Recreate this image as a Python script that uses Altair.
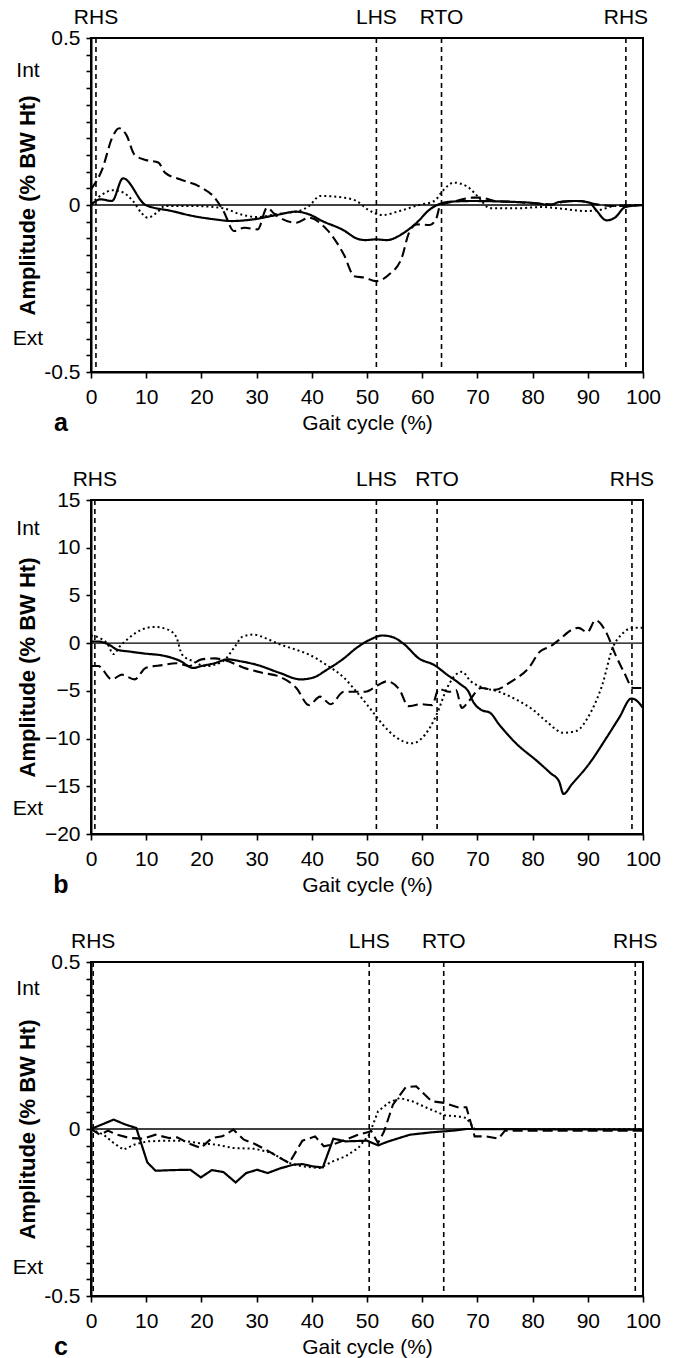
import altair as alt
import pandas as pd

FONT = "Liberation Sans"
W, H = 552, 334

# ---------------- Panel a ----------------
A_SOLID_X = [0, 1.7, 3.8, 5.8, 9.9, 14.6, 18.5, 22.4, 25.5, 29.4, 33.3, 37.2, 39.5, 41.9, 45.8, 48.1, 49.7, 51.6,
             53.6, 56.7, 59, 61.4, 63.3, 65.3, 69.2, 73.1, 77, 80.9, 83.2, 84.8, 87.9, 90.3, 91.4, 93.4, 94.9, 96.8, 100]
A_SOLID_Y = [0, 0.017, 0.012, 0.08, 0, -0.018, -0.033, -0.043, -0.048, -0.043, -0.031, -0.02, -0.028, -0.048, -0.076,
             -0.10, -0.105, -0.103, -0.105, -0.083, -0.053, -0.013, 0.004, 0.01, 0.012, 0.011, 0.009, 0.005, 0, 0.009,
             0.012, 0.007, -0.013, -0.046, -0.038, -0.006, 0]
A_DASH_X = [0, 2.1, 3.8, 5.1, 6.4, 7.9, 9.9, 12.2, 13.4, 16.1, 20, 22.4, 24, 25.9, 27.8, 30.2, 31.9, 33.3, 37.2, 39.5,
            42.7, 45.8, 47.7, 49.7, 51.6, 54, 56.3, 57.5, 59, 61.4, 62.6, 63.3, 66.1, 69.2, 70.7, 73.1, 77, 80.9, 84,
            85.6, 88.7, 91, 94.1, 100]
A_DASH_Y = [0.047, 0.11, 0.2, 0.23, 0.21, 0.15, 0.135, 0.127, 0.097, 0.077, 0.052, 0.022, -0.018, -0.078, -0.068,
            -0.073, -0.008, -0.028, -0.053, -0.038, -0.073, -0.148, -0.213, -0.218, -0.228, -0.208, -0.158, -0.088,
            -0.058, -0.06, -0.038, 0, 0.012, 0.022, 0.022, 0.012, 0.009, 0.004, 0.002, 0.01, 0.012, 0.004, -0.003, 0]
A_DOT_X = [0, 2.1, 3.8, 5.6, 7.6, 9.1, 10.3, 11.9, 13.4, 18.5, 24, 27.1, 30.2, 33.3, 38, 39.5, 41.5, 45.8, 48.1, 50.1,
           52.8, 55.9, 59.4, 62.2, 63.7, 65.7, 68, 70, 72.3, 77, 81.7, 84.8, 89.5, 91.8, 94.9, 100]
A_DOT_Y = [0.004, 0.032, 0.044, 0.039, 0.012, -0.023, -0.038, -0.023, -0.003, -0.003, -0.01, -0.028, -0.036, -0.028,
           -0.016, -0.003, 0.027, 0.022, 0.012, -0.013, -0.03, -0.018, 0, 0.012, 0.042, 0.067, 0.057, 0.027, -0.01,
           -0.01, -0.006, -0.01, -0.018, -0.016, -0.003, 0]
A_EVENTS = [0.9, 51.7, 63.5, 96.9]
A_INT_EXT = [0.4, -0.4]

# ---------------- Panel b ----------------
B_SOLID_X = [0, 1.3, 3.3, 4.8, 6.8, 9.9, 13, 16.1, 18.5, 20, 22.4, 24.7, 27.1, 30.2, 34.1, 38, 40.3, 42.7, 45.8, 48.1,
             50.5, 52.8, 54.8, 56.7, 59.4, 62.2, 64.5, 66.9, 68.4, 69.2, 70.7, 72.3, 73.9, 77, 80.9, 83.2, 84.8, 85.6,
             87.1, 90.3, 93.4, 95.7, 97.9, 98.8, 100]
B_SOLID_Y = [0.17, 0.17, -0.17, -0.7, -0.87, -1.1, -1.3, -1.85, -2.6, -2.4, -2.1, -1.7, -1.9, -2.3, -3.1, -3.8, -3.6,
             -2.8, -1.6, -0.5, 0.35, 0.8, 0.6, -0.1, -1.6, -2.3, -3.3, -4.3, -5.1, -6.1, -7.0, -7.3, -8.5, -10.5,
             -12.4, -13.6, -14.5, -15.8, -14.8, -12.6, -9.9, -7.8, -5.8, -6.0, -6.8]
B_DASH_X = [0, 1.3, 3.8, 5.6, 7.9, 9.9, 13, 15.4, 17.7, 20, 22.4, 24.3, 27.8, 31, 34.1, 37.2, 39.5, 41.5, 43.4, 45.8,
            49.7, 52, 53.6, 55.9, 57.5, 59.8, 61.8, 63, 64.9, 66.1, 67.2, 68.4, 70.7, 73.1, 76.2, 79.3, 81.3, 83.2,
            84.8, 87.1, 88.3, 89.9, 91.4, 93.4, 95, 96.6, 98.2, 100]
B_DASH_Y = [-2.4, -2.4, -3.8, -3.3, -3.8, -2.6, -2.3, -2.1, -2.4, -1.7, -1.6, -1.8, -2.6, -3.1, -3.5, -4.7, -6.5,
            -5.6, -6.4, -5.1, -5.1, -4.4, -4.0, -4.9, -6.6, -6.4, -6.5, -4.8, -5.1, -4.9, -6.8, -6.1, -4.7, -4.9,
            -4.0, -2.6, -0.9, -0.35, 0.35, 1.4, 1.6, 1.15, 2.4, 1.05, -1.2, -3.1, -4.7, -4.7]
B_DOT_X = [0, 1.7, 2.9, 4.1, 5.2, 6.8, 9.1, 11.5, 13.8, 15.4, 16.5, 18.5, 20.8, 24, 25.9, 27.5, 29.4, 31.7, 34.1, 37.2,
           39.5, 42.7, 45.8, 48.1, 50.5, 52.8, 55.1, 58.2, 60.5, 62.6, 64.5, 66.1, 67.2, 68.8, 70.7, 73.9, 77, 80.1,
           82.5, 85.6, 87.9, 90.3, 92.6, 94.5, 96.1, 98.2, 100]
B_DOT_Y = [0.8, 0.5, 0, -1.15, -0.35, 0.5, 1.4, 1.7, 1.45, 0.7, -1.2, -1.9, -2.4, -1.85, -0.5, 0.7, 0.9, 0.5, -0.1,
           -0.7, -1.2, -2.3, -3.6, -5.1, -6.8, -8.5, -9.8, -10.5, -9.6, -7.5, -4.7, -3.3, -3.0, -4.0, -4.6, -5.1,
           -5.9, -7.0, -8.2, -9.4, -9.2, -7.5, -4.4, -0.5, 0.9, 1.6, 1.6]
B_EVENTS = [0.7, 51.7, 62.7, 98.0]
B_INT_EXT = [12.0, -17.4]

# ---------------- Panel c ----------------
C_SOLID_X = [0, 4.1, 6.3, 8.2, 10.2, 11.7, 14.8, 18, 19.9, 21.9, 24, 26.2, 28.1, 30.1, 32, 34.4, 36.7, 38.3, 40.2, 42,
             43.9, 46.1, 50, 52, 53.9, 57.8, 61.7, 65.6, 68, 100]
C_SOLID_Y = [0, 0.028, 0.013, 0.003, -0.10, -0.125, -0.123, -0.122, -0.145, -0.123, -0.129, -0.16, -0.132, -0.122,
             -0.132, -0.117, -0.107, -0.105, -0.112, -0.115, -0.029, -0.037, -0.035, -0.049, -0.037, -0.017, -0.01,
             -0.005, 0, -0.002]
C_DASH_X = [0, 1.6, 3.1, 4.7, 7, 9.4, 11.7, 14.1, 15.6, 18, 19.9, 21.9, 23.8, 25.8, 27.7, 29.7, 32, 35.9, 38.3, 40.6,
            42.2, 44.1, 46.1, 48.4, 50.8, 52, 53.1, 54.7, 57, 58.9, 61.7, 64.1, 66.4, 68, 69.5, 71.5, 73.8, 75, 77.3,
            100]
C_DASH_Y = [0, -0.017, -0.005, -0.017, -0.027, -0.029, -0.017, -0.027, -0.025, -0.045, -0.057, -0.027, -0.022,
            -0.002, -0.032, -0.045, -0.065, -0.102, -0.035, -0.022, -0.052, -0.045, -0.032, -0.017, -0.007, -0.042,
            -0.007, 0.073, 0.125, 0.128, 0.083, 0.078, 0.065, 0.065, -0.022, -0.022, -0.029, -0.005, -0.005, -0.005]
C_DOT_X = [0, 2.3, 4.1, 5.9, 7.8, 10.2, 13.3, 16.4, 19.5, 22.7, 25.8, 29.7, 32.8, 35.9, 38.3, 41.4, 43.8, 46.1, 48.4,
           50.4, 52, 53.9, 55.9, 58.2, 60.9, 64.1, 66.4, 68, 69.5, 100]
C_DOT_Y = [0, -0.017, -0.042, -0.062, -0.047, -0.037, -0.035, -0.035, -0.042, -0.047, -0.057, -0.059, -0.072, -0.102,
           -0.112, -0.117, -0.097, -0.082, -0.057, -0.017, 0.053, 0.078, 0.093, 0.083, 0.063, 0.041, 0.038, 0.033, 0,
           0]
C_EVENTS = [0.4, 50.4, 63.9, 98.6]
C_INT_EXT = [0.42, -0.416]

EVENT_LABELS = ["RHS", "LHS", "RTO", "RHS"]
INT_EXT_LABELS = ["Int", "Ext"]
X_TICKS = [0, 10, 20, 30, 40, 50, 60, 70, 80, 90, 100]
SMALL_YTICKS = [-0.5, -0.45, -0.4, -0.35, -0.3, -0.25, -0.2, -0.15, -0.1, -0.05, 0, 0.05, 0.1, 0.15, 0.2, 0.25, 0.3,
                0.35, 0.4, 0.45, 0.5]
SMALL_YLABELS = {0.5: "0.5", 0: "0", -0.5: "-0.5"}
B_YTICKS = [-20, -15, -10, -5, 0, 5, 10, 15]

SERIES = ["solid", "dashed", "dotted"]


def label_expr(mapping):
    parts = []
    for v, s in mapping.items():
        parts.append(f"abs(datum.value - ({v})) < 1e-6 ? '{s}' : ")
    return "".join(parts) + "''"


def build_panel(curves, events, int_ext, ydomain, yticks, ylabel_map, letter, interp, anchor=False):
    rows = []
    for name, xs, ys in curves:
        for x, y in zip(xs, ys):
            rows.append({"series": name, "x": x, "y": y})
    df = pd.DataFrame(rows)

    x_axis = alt.Axis(values=X_TICKS, title="Gait cycle (%)", grid=False, tickSize=6, tickWidth=1.6,
                      labelPadding=25, labelBaseline="alphabetic", labelFontSize=21, labelFlush=False,
                      titleFontSize=21, titleFontWeight="normal", titleY=57, titleBaseline="alphabetic",
                      domainWidth=2)
    y_axis_kwargs = dict(values=yticks, title="Amplitude (% BW Ht)", grid=False, tickSize=5, tickWidth=1.6,
                         labelPadding=6, labelFontSize=21, labelFlush=False, titleFontSize=22,
                         titleFontWeight="bold", titleX=-64, titleY=H / 2, titleAngle=270, titleAlign="center",
                         titleBaseline="middle", domainWidth=2)
    if ylabel_map is not None:
        y_axis_kwargs["labelExpr"] = label_expr(ylabel_map)
    y_axis = alt.Axis(**y_axis_kwargs)

    xs = alt.Scale(domain=[0, 100], nice=False, zero=False)
    ys = alt.Scale(domain=ydomain, nice=False, zero=False)

    def xenc(f):
        return alt.X(f, type="quantitative", scale=xs, axis=x_axis)

    def yenc(f):
        return alt.Y(f, type="quantitative", scale=ys, axis=y_axis)

    lines = alt.Chart(df).mark_line(color="black", strokeCap="butt", interpolate=interp).encode(
        x=xenc("x"), y=yenc("y"), detail="series:N",
        strokeDash=alt.StrokeDash("series:N", scale=alt.Scale(domain=SERIES, range=[[1, 0], [10, 5], [2, 3]]),
                                  legend=None),
        strokeWidth=alt.StrokeWidth("series:N", scale=alt.Scale(domain=SERIES, range=[2.2, 2.0, 2.0]),
                                    legend=None),
    )

    zero = alt.Chart(pd.DataFrame({"y": [0]})).mark_rule(color="black", strokeWidth=1.3).encode(y=yenc("y"))

    ev_df = pd.DataFrame({"x": events, "label": EVENT_LABELS})
    ev_lines = alt.Chart(ev_df).mark_rule(color="black", strokeWidth=1.6, strokeDash=[5, 4]).encode(
        x=xenc("x"))
    ev_text = alt.Chart(ev_df).mark_text(font=FONT, fontSize=21, color="black", align="center",
                                          baseline="middle").encode(x=xenc("x"), y=alt.value(-20), text="label:N")

    ie_df = pd.DataFrame({"y": int_ext, "label": INT_EXT_LABELS})
    ie_text = alt.Chart(ie_df).mark_text(font=FONT, fontSize=21, color="black", align="center",
                                          baseline="middle").encode(y=yenc("y"), x=alt.value(-63), text="label:N")

    letter_text = alt.Chart(pd.DataFrame({"t": [letter]})).mark_text(
        font=FONT, fontSize=25, fontWeight="bold", color="black", align="center", baseline="middle"
    ).encode(x=alt.value(-30), y=alt.value(H + 51), text="t:N")

    layers = [zero, ev_lines, lines, ev_text, ie_text, letter_text]
    if anchor:
        anc = alt.Chart(pd.DataFrame({"t": [0]})).mark_rule(opacity=0, strokeOpacity=0, strokeWidth=1).encode(
            x=alt.value(-90), x2=alt.value(-89), y=alt.value(-37), y2=alt.value(-36))
        layers.append(anc)
    return alt.layer(*layers).properties(width=W, height=H)


pa = build_panel([("solid", A_SOLID_X, A_SOLID_Y), ("dashed", A_DASH_X, A_DASH_Y), ("dotted", A_DOT_X, A_DOT_Y)],
                 A_EVENTS, A_INT_EXT, [-0.5, 0.5], SMALL_YTICKS, SMALL_YLABELS, "a", "monotone", anchor=True)
pb = build_panel([("solid", B_SOLID_X, B_SOLID_Y), ("dashed", B_DASH_X, B_DASH_Y), ("dotted", B_DOT_X, B_DOT_Y)],
                 B_EVENTS, B_INT_EXT, [-20, 15], B_YTICKS, None, "b", "monotone")
pc = build_panel([("solid", C_SOLID_X, C_SOLID_Y), ("dashed", C_DASH_X, C_DASH_Y), ("dotted", C_DOT_X, C_DOT_Y)],
                 C_EVENTS, C_INT_EXT, [-0.5, 0.5], SMALL_YTICKS, SMALL_YLABELS, "c", "linear")

chart = alt.vconcat(pa, pb, pc, spacing=128, bounds="flush").properties(
    padding=0, background="white"
).configure_view(stroke="black", strokeWidth=2).configure_axis(
    labelFont=FONT, titleFont=FONT, labelColor="black", titleColor="black", tickColor="black",
    domainColor="black"
)

chart.save("out.html", embed_options={"renderer": "svg", "actions": False})
